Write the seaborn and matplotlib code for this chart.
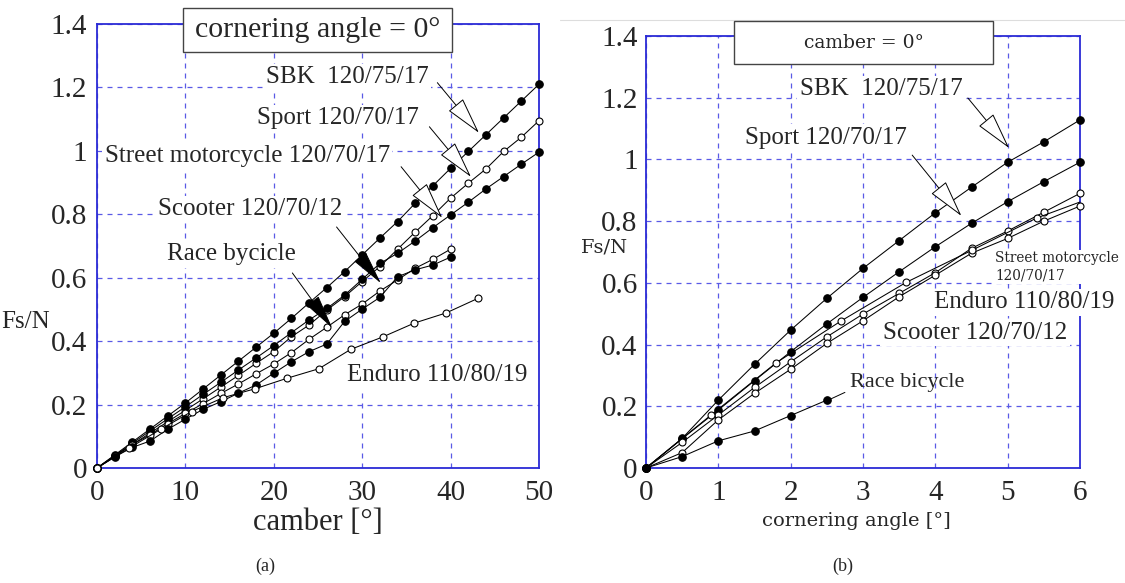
import matplotlib
matplotlib.use("Agg")
import matplotlib.pyplot as plt
from matplotlib.lines import Line2D
from matplotlib.patches import Rectangle
from matplotlib.ticker import FuncFormatter, MultipleLocator
import seaborn as sns
import pandas as pd

# ---------------- data: (a) camber sweep, cornering angle = 0 ----------------
camber_x = [0, 2, 4, 6, 8, 10, 12, 14, 16, 18, 20, 22, 24, 26, 28, 30,
            32, 34, 36, 38, 40, 42, 44, 46, 48, 50]
camber_sbk = [0, 0.041, 0.082, 0.123, 0.164, 0.205, 0.249, 0.293, 0.337, 0.381,
              0.425, 0.472, 0.521, 0.569, 0.619, 0.672, 0.725, 0.777, 0.835, 0.89,
              0.945, 0.998, 1.051, 1.104, 1.157, 1.21]
camber_sport = [0, 0.037, 0.074, 0.11, 0.146, 0.182, 0.218, 0.255, 0.292, 0.33,
                0.367, 0.414, 0.451, 0.498, 0.540, 0.588, 0.635, 0.690, 0.744, 0.796,
                0.851, 0.898, 0.943, 0.998, 1.043, 1.095]
camber_street = [0, 0.039, 0.078, 0.117, 0.155, 0.193, 0.232, 0.27, 0.309, 0.347,
                 0.386, 0.427, 0.467, 0.503, 0.545, 0.595, 0.645, 0.677, 0.716, 0.758,
                 0.798, 0.838, 0.880, 0.919, 0.958, 0.996]
camber_x40 = [0, 2, 4, 6, 8, 10, 12, 14, 16, 18, 20, 22, 24, 26, 28, 30,
              32, 34, 36, 38, 40]
camber_scooter = [0, 0.037, 0.074, 0.105, 0.14, 0.172, 0.203, 0.235, 0.265, 0.297,
                  0.328, 0.364, 0.406, 0.444, 0.483, 0.517, 0.558, 0.593, 0.630, 0.658,
                  0.690]
camber_race = [0, 0.035, 0.065, 0.085, 0.122, 0.154, 0.185, 0.209, 0.236, 0.262,
               0.299, 0.335, 0.367, 0.391, 0.462, 0.501, 0.538, 0.603, 0.625, 0.640,
               0.665]
camber_enduro_x = [0, 3.6, 7.2, 10.7, 14.3, 17.9, 21.5, 25.1, 28.7, 32.3, 35.9, 39.5, 43.1]
camber_enduro = [0, 0.062, 0.122, 0.178, 0.222, 0.25, 0.283, 0.313, 0.374, 0.413,
                 0.457, 0.489, 0.535]

# ---------------- data: (b) cornering angle sweep, camber = 0 ----------------
corner_x = [0, 0.5, 1, 1.5, 2, 2.5, 3, 3.5, 4, 4.5, 5, 5.5, 6]
corner_sbk = [0, 0.096, 0.22, 0.336, 0.447, 0.55, 0.647, 0.737, 0.827, 0.91, 0.991, 1.057, 1.128]
corner_sport = [0, 0.095, 0.188, 0.283, 0.377, 0.467, 0.553, 0.636, 0.717, 0.793, 0.863, 0.928, 0.991]
corner_street = [0, 0.083, 0.172, 0.261, 0.344, 0.425, 0.499, 0.566, 0.633, 0.712, 0.768, 0.829, 0.89]
corner_scooter = [0, 0.05, 0.156, 0.242, 0.32, 0.404, 0.477, 0.555, 0.625, 0.696, 0.744, 0.80, 0.849]
corner_enduro_x = [0, 0.9, 1.8, 2.7, 3.6, 4.5, 5.4, 6.0]
corner_enduro = [0, 0.172, 0.341, 0.477, 0.602, 0.705, 0.81, 0.862]
corner_race_x = [0, 0.5, 1, 1.5, 2, 2.5]
corner_race = [0, 0.037, 0.088, 0.12, 0.17, 0.22]

y_ticks = [0, 0.2, 0.4, 0.6, 0.8, 1.0, 1.2, 1.4]

# ---------------- style ----------------
sns.set_style("white")
SERIF = ["Liberation Serif", "DejaVu Serif"]
plt.rcParams["font.family"] = SERIF

SPINE = "#2b2bd6"
GRID = "#5a5ae6"

fig = plt.figure(figsize=(11.25, 5.83), dpi=100)
W, H = 1125, 583
def ax_rect(x0, x1, y0, y1):
    return [x0 / W, 1 - y1 / H, (x1 - x0) / W, (y1 - y0) / H]

axA = fig.add_axes(ax_rect(97, 539, 24, 468))
axB = fig.add_axes(ax_rect(646, 1080, 36, 468))

def series(ax, x, y, filled, **kw):
    df = pd.DataFrame({"x": x, "y": y})
    sns.lineplot(data=df, x="x", y="y", ax=ax, color="black", lw=0.75,
                 marker="o", markersize=5.4 if filled else 5.0,
                 markerfacecolor="black" if filled else "white",
                 markeredgecolor="black", markeredgewidth=0.8,
                 estimator=None, sort=False, clip_on=False, zorder=4, **kw)

def style_axes(ax, xmax, xstep, tick_fs, ypad, xpad):
    ax.set_xlim(0, xmax)
    ax.set_ylim(0, 1.4)
    ax.set_yticks(y_ticks)
    ax.xaxis.set_major_locator(MultipleLocator(xstep))
    ax.yaxis.set_major_formatter(FuncFormatter(lambda v, p: "%g" % round(v, 2)))
    for s in ax.spines.values():
        s.set_visible(True)
        s.set_color(SPINE)
        s.set_linewidth(1.3)
    ax.grid(True, color=GRID, linestyle=(0, (4, 4)), linewidth=0.9)
    ax.set_axisbelow(True)
    ax.tick_params(axis="both", length=0, labelsize=tick_fs)
    ax.tick_params(axis="y", pad=ypad)
    ax.tick_params(axis="x", pad=xpad)
    ax.set_xlabel("")
    ax.set_ylabel("")

# ---------- panel (a) ----------
series(axA, camber_x, camber_sbk, True)
series(axA, camber_x, camber_sport, False)
series(axA, camber_x, camber_street, True)
series(axA, camber_x40, camber_scooter, False)
series(axA, camber_x40, camber_race, True)
series(axA, camber_enduro_x, camber_enduro, False)
style_axes(axA, 50, 10, 21, 7, 9)

box = dict(boxstyle="square,pad=0.1", fc="white", ec="none")
open_arrow = dict(arrowstyle="-|>,head_length=1.1,head_width=0.28", mutation_scale=22,
                  fc="white", ec="black", lw=0.7, shrinkA=0, shrinkB=0)
solid_arrow = dict(arrowstyle="-|>,head_length=1.0,head_width=0.22", mutation_scale=22,
                   fc="black", ec="black", lw=0.7, shrinkA=0, shrinkB=0)

tfs = 18
axA.text(28.3, 1.232, "SBK  120/75/17", fontsize=tfs, ha="center", va="center", bbox=box, zorder=5)
axA.text(27.2, 1.103, "Sport 120/70/17", fontsize=tfs, ha="center", va="center", bbox=box, zorder=5)
axA.text(17.0, 0.983, "Street motorcycle 120/70/17", fontsize=tfs, ha="center", va="center", bbox=box, zorder=5)
axA.text(17.3, 0.816, "Scooter 120/70/12", fontsize=tfs, ha="center", va="center", bbox=box, zorder=5)
axA.text(15.2, 0.674, "Race bycicle", fontsize=tfs, ha="center", va="center", bbox=box, zorder=5)
axA.text(28.3, 0.292, "Enduro 110/80/19", fontsize=tfs, ha="left", va="center", bbox=box, zorder=5)
axA.annotate("", xy=(43.2, 1.057), xytext=(38.5, 1.215), arrowprops=open_arrow, zorder=6)
axA.annotate("", xy=(42.3, 0.918), xytext=(37.6, 1.076), arrowprops=open_arrow, zorder=6)
axA.annotate("", xy=(39.05, 0.789), xytext=(34.4, 0.95), arrowprops=open_arrow, zorder=6)
axA.annotate("", xy=(32.1, 0.583), xytext=(27.1, 0.76), arrowprops=solid_arrow, zorder=6)
axA.annotate("", xy=(26.6, 0.442), xytext=(22.1, 0.615), arrowprops=solid_arrow, zorder=6)

# ---------- panel (b) ----------
series(axB, corner_x, corner_sbk, True)
series(axB, corner_x, corner_sport, True)
series(axB, corner_x, corner_street, False)
series(axB, corner_x, corner_scooter, False)
series(axB, corner_enduro_x, corner_enduro, False, markevery=list(range(7)))
series(axB, corner_race_x, corner_race, True)
style_axes(axB, 6, 1, 21, 6, 9)

axB.text(3.25, 1.227, "SBK  120/75/17", fontsize=tfs, ha="center", va="center", bbox=box, zorder=5)
axB.text(2.49, 1.071, "Sport 120/70/17", fontsize=tfs, ha="center", va="center", bbox=box, zorder=5)
axB.text(4.83, 0.652, "Street motorcycle\n120/70/17", fontsize=9.8, family=["DejaVu Serif"],
         ha="left", va="center", linespacing=1.25, bbox=box, zorder=5)
axB.text(3.98, 0.537, "Enduro 110/80/19", fontsize=tfs, ha="left", va="center", bbox=box, zorder=5)
axB.text(4.55, 0.439, "Scooter 120/70/12", fontsize=tfs, ha="center", va="center", bbox=box, zorder=5)
axB.text(2.82, 0.277, "Race bicycle", fontsize=16, ha="left", va="center", zorder=5)
axB.plot([2.52, 2.75], [0.22, 0.245], color="black", lw=0.7, zorder=4)
axB.annotate("", xy=(5.02, 1.037), xytext=(4.45, 1.199), arrowprops=open_arrow, zorder=6)
axB.annotate("", xy=(4.36, 0.817), xytext=(3.68, 1.014), arrowprops=open_arrow, zorder=6)

# ---------- labels, boxes, captions (figure coords) ----------
def fx(px):
    return px / W
def fy(py):
    return 1 - py / H

fig.text(fx(1), fy(322), "Fs/N", fontsize=18, ha="left", va="center")
fig.text(fx(605), fy(248), "Fs/N", fontsize=14, family=["DejaVu Serif"], ha="center", va="center")
fig.text(fx(318), fy(522), "camber [°]", fontsize=22, ha="center", va="center")
fig.text(fx(856), fy(521), "cornering angle [°]", fontsize=14, family=["DejaVu Serif"],
         ha="center", va="center")
fig.text(fx(265), fy(566), "(a)", fontsize=13, ha="center", va="center")
fig.text(fx(843), fy(566), "(b)", fontsize=13, ha="center", va="center")

def title_box(x0, x1, y0, y1, label, **kw):
    fig.add_artist(Rectangle((fx(x0), fy(y1)), (x1 - x0) / W, (y1 - y0) / H,
                             transform=fig.transFigure, fc="white", ec="#444444",
                             lw=1.0, zorder=9))
    fig.text(fx((x0 + x1) / 2), fy((y0 + y1) / 2), label, ha="center", va="center",
             zorder=10, **kw)

title_box(183, 452, 8, 52, "cornering angle = 0°", fontsize=21.5)
title_box(734, 993, 21, 64, "camber = 0°", fontsize=13.5, family=["DejaVu Serif"])

fig.add_artist(Line2D([fx(560), 1.0], [fy(20), fy(20)], color="#dddddd", lw=0.8))

fig.savefig("out.png", dpi=100)
